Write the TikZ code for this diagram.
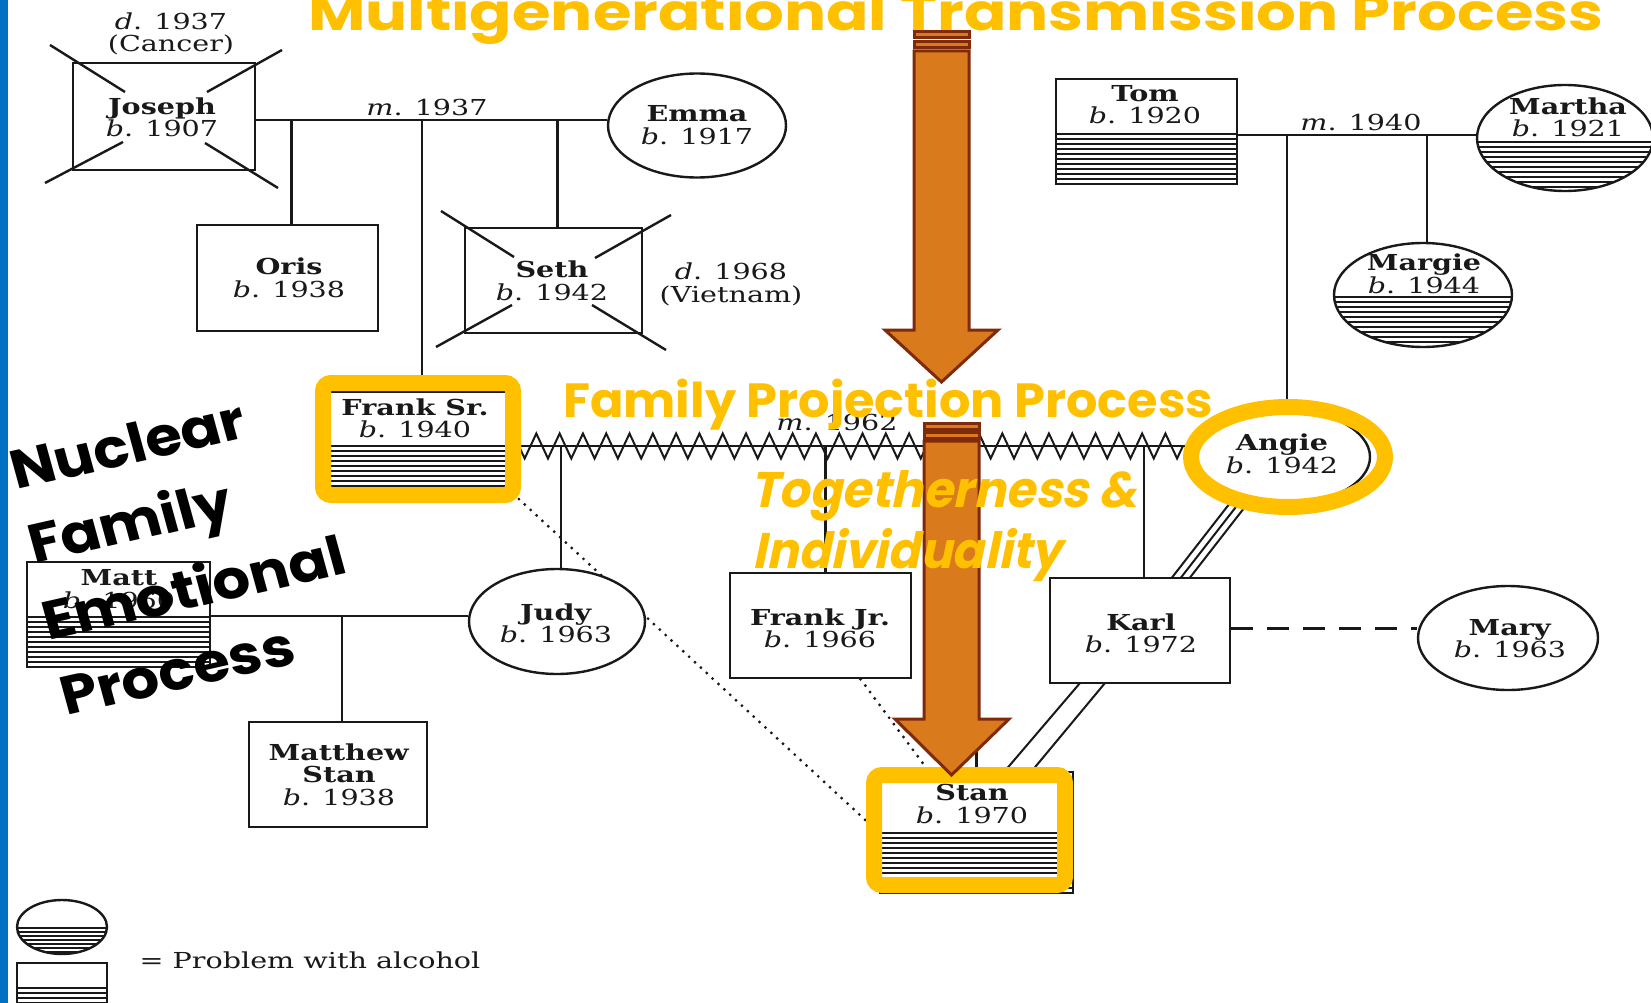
\documentclass[tikz,border=0pt]{standalone}
\usepackage{fontspec}
\usepackage{graphicx}
\setmainfont{DejaVu Serif}[FakeStretch=1.3]
\newfontfamily\gothic{Poppins}
\newfontfamily\gothicsl{Poppins}[FakeSlant=0.22]
\usetikzlibrary{decorations.pathmorphing,shapes.geometric}
\pgfdeclarelayer{bg}
\pgfsetlayers{bg,main}
\definecolor{yel}{RGB}{255,192,0}
\definecolor{orfill}{RGB}{217,122,28}
\definecolor{ordark}{RGB}{128,42,12}
\definecolor{blu}{RGB}{0,112,192}
\definecolor{ink}{RGB}{25,25,25}
\tikzset{
 pbox/.style={draw=ink, line width=2.4pt, fill=white, rectangle, inner sep=0pt},
 pell/.style={draw=ink, line width=2.4pt, fill=white, ellipse, inner sep=0pt},
 gline/.style={draw=ink, line width=2.4pt},
 thinline/.style={draw=ink, line width=2pt},
 hatchln/.style={draw=ink, line width=1.4pt},
 dotln/.style={draw=ink, line width=3.2pt, line cap=round, dash pattern=on 0pt off 8pt},
 dashln/.style={draw=ink, line width=2.4pt, dash pattern=on 22pt off 14pt},
 nm/.style={align=center, inner sep=0pt, text=ink, font=\fontsize{22}{22.5}\selectfont},
 yring/.style={draw=yel, line width=16pt},
 arr/.style={fill=orfill, draw=ordark, line width=3pt, line join=miter},
 ytext/.style={anchor=base west, inner sep=0pt, text=yel},
 btext/.style={anchor=base west, inner sep=0pt, text=black, xscale=1.1, rotate=14, font=\gothic\bfseries\fontsize{54}{54}\selectfont},
}
\begin{document}
\begin{tikzpicture}[x=1pt,y=-1pt]
\useasboundingbox (0,0) rectangle (1651,1003);

% ---------- persons ----------
\node[pbox, minimum width=182, minimum height=107] (joseph) at (164,116.5) {};
\node[pell, minimum width=178, minimum height=104] (emma) at (697,125.5) {};
\node[pbox, minimum width=181, minimum height=106] (oris) at (287.5,278) {};
\node[pbox, minimum width=177, minimum height=105] (seth) at (553.5,280.5) {};
\node[pbox, minimum width=181, minimum height=105] (tom) at (1146.5,131.5) {};
\node[pell, minimum width=176, minimum height=106] (martha) at (1565,138) {};
\node[pell, minimum width=178, minimum height=104] (margie) at (1423,295) {};
\node[pbox, minimum width=176, minimum height=95] (franksr) at (418,439.5) {};
\node[pell, minimum width=180, minimum height=96] (angie) at (1280,457) {};
\node[pbox, minimum width=183, minimum height=105] (matt) at (118.5,614.5) {};
\node[pbox, minimum width=178, minimum height=105] (matthew) at (338,774.5) {};
\node[pbox, minimum width=181, minimum height=105] (frankjr) at (820.5,625.5) {};
\node[pbox, minimum width=180, minimum height=105] (karl) at (1140,630.5) {};
\node[pell, minimum width=180, minimum height=104] (mary) at (1508,638) {};
\node[pbox, minimum width=193, minimum height=121] (stan) at (976.5,832.5) {};
\node[pbox, minimum width=90, minimum height=47] (legB) at (62,986.5) {};
\node[pell, minimum width=90, minimum height=54] (legE) at (62,927) {};
\node[pell, minimum width=176, minimum height=105] (judy) at (557,621.5) {};

% ---------- attachment points ----------
\coordinate (orisT) at ([xshift=4]oris.north);
\coordinate (fsT) at ([xshift=4]franksr.north);
\coordinate (sethT) at ([xshift=4]seth.north);
\coordinate (angieT) at ([xshift=7]angie.north);
\coordinate (margieT) at ([xshift=4]margie.north);
\coordinate (judyT) at ([xshift=4]judy.north);
\coordinate (fjT) at ([xshift=5]frankjr.north);
\coordinate (karlT) at ([xshift=4]karl.north);
\coordinate (mtwT) at ([xshift=4]matthew.north);
\coordinate (karlE) at ([yshift=2]karl.east);

% ---------- background and connectors ----------
\begin{pgfonlayer}{bg}
\fill[white] (0,0) rectangle (1651,1003);
\fill[blu] (0,0) rectangle (8,1003);
\coordinate (mJE) at (0,120);
\draw[gline] (joseph.east |- mJE) -- (emma.west |- mJE);
\draw[gline] (orisT |- mJE) -- (orisT);
\draw[gline] (fsT |- mJE) -- (fsT);
\draw[gline] (sethT |- mJE) -- (sethT);
\coordinate (mTM) at (0,135);
\draw[gline] (tom.east |- mTM) -- (martha.west |- mTM);
\draw[gline] (angieT |- mTM) -- (angieT);
\draw[gline] (margieT |- mTM) -- (margieT);
\coordinate (mFA) at (0,446);
\draw[thinline] (franksr.east |- mFA) -- (angie.west |- mFA);
\draw[thinline, decorate, decoration={zigzag,segment length=23.3pt,amplitude=12.5pt}] (franksr.east |- mFA) -- (angie.west |- mFA);
\draw[gline] (judyT |- mFA) -- (judyT);
\draw[gline] (fjT |- mFA) -- (fjT);
\draw[gline] (stan.north |- mFA) -- (stan.north);
\draw[gline] (karlT |- mFA) -- (karlT);
\coordinate (mMJ) at (0,616);
\draw[gline] (matt.east |- mMJ) -- (judy.west |- mMJ);
\draw[gline] (mtwT |- mMJ) -- (mtwT);
\draw[dotln] (franksr.south east) -- (stan.west);
\draw[dotln] ([xshift=40]frankjr.south) -- ([xshift=-48]stan.north);
\foreach \o in {-9,0,9}
  \draw[thinline] ([shift={(-41+\o,46)}]angie.center) -- ([shift={(41+\o,-53)}]karl.center);
\draw[thinline] ([shift={(-60,52.5)}]karl.center) -- ([shift={(27.5,-60.5)}]stan.center);
\draw[thinline] ([shift={(-35,52.5)}]karl.center) -- ([shift={(54.5,-60.5)}]stan.center);
\draw[dashln] (karlE) -- (mary.west |- karlE);
\end{pgfonlayer}

% ---------- hatching ----------
\foreach \yy in {134,139,...,184} \draw[hatchln] (1056,\yy) -- (1237,\yy);
\foreach \yy in {446,451,...,486} \draw[hatchln] (330,\yy) -- (506,\yy);
\foreach \yy in {617,622,...,666} \draw[hatchln] (27,\yy) -- (210,\yy);
\foreach \yy in {833,838,...,892} \draw[hatchln] (880,\yy) -- (1073,\yy);
\foreach \yy in {988,993,...,1003} \draw[hatchln] (17,\yy) -- (107,\yy);
\begin{scope}
\clip (1565,138) ellipse [x radius=88, y radius=53];
\foreach \yy in {142,147,...,192} \draw[hatchln] (1477,\yy) -- (1653,\yy);
\end{scope}
\begin{scope}
\clip (1423,295) ellipse [x radius=89, y radius=52];
\foreach \yy in {297,302,...,347} \draw[hatchln] (1334,\yy) -- (1512,\yy);
\end{scope}
\begin{scope}
\clip (62,927) ellipse [x radius=45, y radius=27];
\foreach \yy in {928,932,...,954} \draw[hatchln] (17,\yy) -- (107,\yy);
\end{scope}

% ---------- death crosses ----------
\draw[gline] ([shift={(-114,-71.5)}]joseph.center) -- ([shift={(-39,-24.5)}]joseph.center);
\draw[gline] ([shift={(41,26.5)}]joseph.center) -- ([shift={(114,71.5)}]joseph.center);
\draw[gline] ([shift={(118,-66.5)}]joseph.center) -- ([shift={(43,-24.5)}]joseph.center);
\draw[gline] ([shift={(-41,25.5)}]joseph.center) -- ([shift={(-119,66.5)}]joseph.center);
\draw[gline] ([shift={(-112.5,-69.5)}]seth.center) -- ([shift={(-39.5,-23.5)}]seth.center);
\draw[gline] ([shift={(38.5,24.5)}]seth.center) -- ([shift={(112.5,69.5)}]seth.center);
\draw[gline] ([shift={(117.5,-65.5)}]seth.center) -- ([shift={(41.5,-22.5)}]seth.center);
\draw[gline] ([shift={(-41.5,24.5)}]seth.center) -- ([shift={(-117.5,66.5)}]seth.center);

% ---------- texts ----------
\node[nm] (tjoseph) at (162,117.5) {\textbf{Joseph}\\\textit{b}. 1907};
\node[nm] (tdj) at (171,34) {\textit{d}. 1937\\(Cancer)};
\node[nm] (tmje) at (427,107) {\textit{m}. 1937};
\node[nm] (temma) at (697,125) {\textbf{Emma}\\\textit{b}. 1917};
\node[nm] (toris) at (289,278) {\textbf{Oris}\\\textit{b}. 1938};
\node[nm] (tseth) at (552,281) {\textbf{Seth}\\\textit{b}. 1942};
\node[nm] (tds) at (731,284.5) {\textit{d}. 1968\\(Vietnam)};
\node[nm] (ttom) at (1145,104.5) {\textbf{Tom}\\\textit{b}. 1920};
\node[nm] (tmtm) at (1361,122) {\textit{m}. 1940};
\node[nm] (tmartha) at (1568,117.5) {\textbf{Martha}\\\textit{b}. 1921};
\node[nm] (tmargie) at (1424,274) {\textbf{Margie}\\\textit{b}. 1944};
\node[nm] (tfranksr) at (415,418.5) {\textbf{Frank Sr.}\\\textit{b}. 1940};
\node[nm] (tmfa) at (837,422) {\textit{m}. 1962};
\node[nm] (tangie) at (1282,454) {\textbf{Angie}\\\textit{b}. 1942};
\node[nm] (tmatt) at (119,589) {\textbf{Matt}\\\textit{b}. 1960};
\node[nm] (tjudy) at (556,623.5) {\textbf{Judy}\\\textit{b}. 1963};
\node[nm] (tmatthew) at (339,774.5) {\textbf{Matthew}\\\textbf{Stan}\\\textit{b}. 1938};
\node[nm] (tfrankjr) at (820,628.5) {\textbf{Frank Jr.}\\\textit{b}. 1966};
\node[nm] (tkarl) at (1141,633.5) {\textbf{Karl}\\\textit{b}. 1972};
\node[nm] (tmary) at (1510,638.5) {\textbf{Mary}\\\textit{b}. 1963};
\node[nm] (tstan) at (972,804) {\textbf{Stan}\\\textit{b}. 1970};
\node[nm] (tleg) at (310,960) {= Problem with alcohol};

% ---------- yellow highlights ----------
\draw[yring, rounded corners=8] (323,383) rectangle (513,495);
\draw[yring] (1288,457) ellipse [x radius=97, y radius=50];
\draw[yring, rounded corners=8] (874,775) rectangle (1065,885);

% ---------- orange arrows ----------
\filldraw[arr] (914,32) rectangle (969,38);
\filldraw[arr] (914,42) rectangle (969,48);
\filldraw[arr] (914,51) -- (969,51) -- (969,330) -- (998,330) -- (941.5,382) -- (885,330) -- (914,330) -- cycle;
\filldraw[arr] (924,423) rectangle (979,429);
\filldraw[arr] (924,432) rectangle (979,438);
\filldraw[arr] (924,441) -- (979,441) -- (979,719) -- (1009,719) -- (951.5,775) -- (895,719) -- (924,719) -- cycle;

% ---------- overlay texts ----------
\node[ytext] (title) at (308,31) {\resizebox{1295pt}{\height}{\gothic\bfseries\fontsize{51}{51}\selectfont Multigenerational Transmission Process}};
\node[ytext] (fpp) at (563,417) {\resizebox{650pt}{\height}{\gothic\bfseries\fontsize{48}{48}\selectfont Family Projection Process}};
\node[ytext] (ti1) at (750,507) {\resizebox{387pt}{\height}{\gothicsl\bfseries\fontsize{50}{50}\selectfont Togetherness \&}};
\node[ytext] (ti2) at (752,568) {\resizebox{309pt}{\height}{\gothicsl\bfseries\fontsize{50}{50}\selectfont Individuality}};
\node[btext] (n1) at (16,490) {Nuclear};
\node[btext] (n2) at (34,564) {Family};
\node[btext] (n3) at (48,641) {Emotional};
\node[btext] (n4) at (66,716) {Process};
\end{tikzpicture}
\end{document}
